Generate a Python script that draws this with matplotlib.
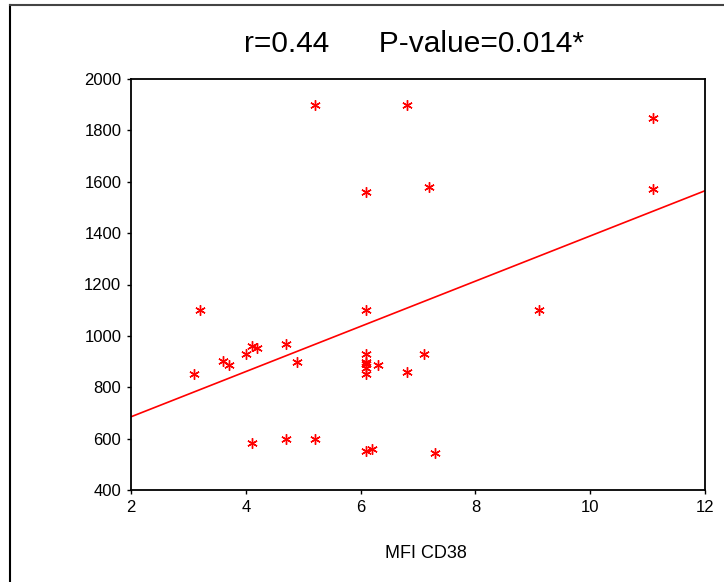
import numpy as np
import matplotlib
matplotlib.use("Agg")
from matplotlib import pyplot as plt
from matplotlib.lines import Line2D

plt.rcParams['font.family'] = ['Liberation Sans', 'DejaVu Sans']

# data
mfi_cd38 = [5.2, 6.8, 11.1, 11.1, 6.1, 7.2,
            3.2, 6.1, 9.1,
            3.1, 3.6, 3.7, 4.0, 4.1, 4.2, 4.7, 4.9,
            6.1, 6.1, 6.1, 6.1, 6.1, 6.3, 6.8, 7.1,
            4.1, 4.7, 5.2, 6.1, 6.2, 7.3]
y_vals = [1900, 1900, 1850, 1570, 1560, 1580,
          1100, 1100, 1100,
          852, 902, 887, 930, 960, 952, 970, 900,
          930, 900, 890, 875, 852, 887, 860, 930,
          583, 600, 600, 552, 560, 543]

# regression line ends
fit_x = [2, 12]
fit_y = [685, 1565]

x_ticks = [2, 4, 6, 8, 10, 12]
y_ticks = [400, 600, 800, 1000, 1200, 1400, 1600, 1800, 2000]

fig = plt.figure(figsize=(7.24, 5.82), dpi=100)
ax = fig.add_axes([131/724, 1 - 490/582, (705-131)/724, (490-79)/582])

ax.plot(fit_x, fit_y, color='red', lw=1.2)
ax.plot(mfi_cd38, y_vals, ls='none', marker=(6, 2, 0), ms=7.5, mew=1.0, color='red')

ax.set_xlim(2, 12)
ax.set_ylim(400, 2000)
ax.set_xticks(x_ticks)
ax.set_yticks(y_ticks)
ax.tick_params(direction='out', length=3, width=1, labelsize=12, pad=4)
for s in ax.spines.values():
    s.set_linewidth(1.3)

fig.text(414/724, 1 - 44/582, 'r=0.44      P-value=0.014*', fontsize=21.5,
         ha='center', va='center')
fig.text(426/724, 1 - 553/582, 'MFI CD38', fontsize=13, ha='center', va='center')

# outer frame: only left and top edges are visible
fx, fy = 10/724, 1 - 5/582
fig.add_artist(Line2D([fx, fx], [0, fy], color='black', lw=1.5, transform=fig.transFigure))
fig.add_artist(Line2D([fx, 1], [fy, fy], color='#444444', lw=1.5, transform=fig.transFigure))

fig.savefig('out.png', dpi=100)
